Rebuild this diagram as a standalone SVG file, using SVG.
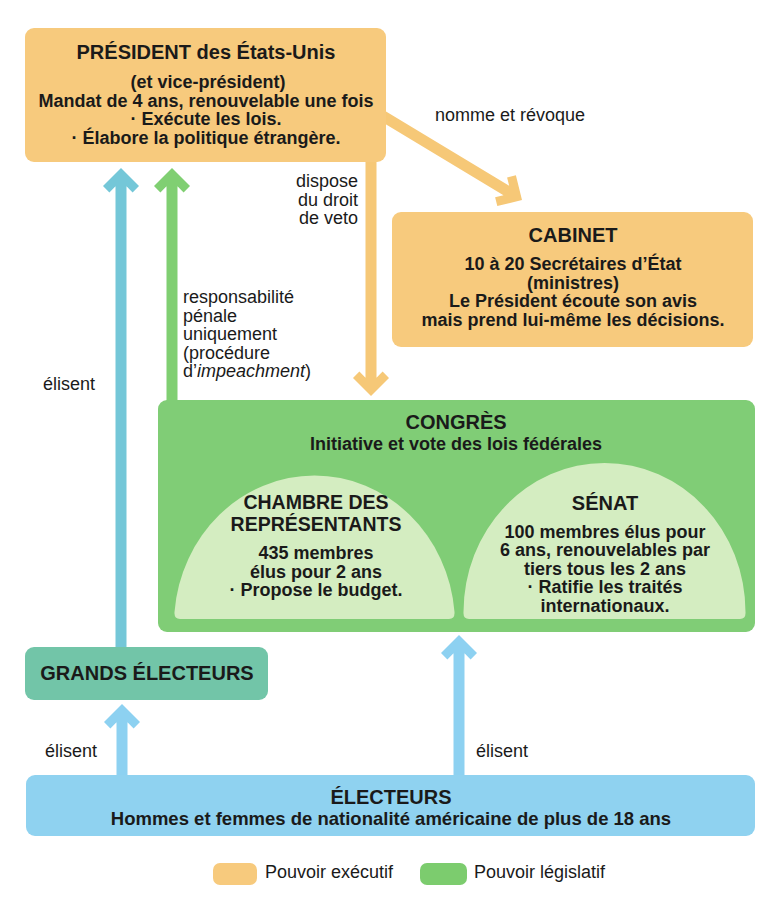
<svg xmlns="http://www.w3.org/2000/svg" width="757" height="897" viewBox="0 0 757 897">
<style>
text{font-family:"Liberation Sans",Arial,Helvetica,sans-serif;fill:#1a1a1a}
.t{font-size:20px;font-weight:bold;text-anchor:middle}
.b{font-size:18px;font-weight:bold;text-anchor:middle}
.r{font-size:18px}
.exec{fill:#f7ca7d}
.leg{fill:#80cd76}
.dome{fill:#d4edc1}
.ablue{fill:#8dd1f1}
.ateal{fill:#74c7d8}
.agreen{fill:#80cf72}
.aorange{fill:#f6c877}
</style>
<rect width="757" height="897" fill="#ffffff"/>
<g id="connectors">
<path class="ateal" d="M121,168 L139,186 L132.6,192.4 L126.5,186.3 L126.5,650 L115.5,650 L115.5,186.3 L109.4,192.4 L103,186 Z"/>
<path class="agreen" d="M172,168 L190,186 L183.6,192.4 L177.5,186.3 L177.5,402 L166.5,402 L166.5,186.3 L160.4,192.4 L154,186 Z"/>
<path class="aorange" d="M371,396 L389,378 L382.6,371.6 L376.5,377.7 L376.5,160 L365.5,160 L365.5,377.7 L359.4,371.6 L353,378 Z"/>
<path class="aorange" transform="translate(522,200) rotate(121.1)" d="M0,0 L18,18 L11.6,24.4 L5.5,18.3 L5.5,165 L-5.5,165 L-5.5,18.3 L-11.6,24.4 L-18,18 Z"/>
<path class="ablue" d="M122,704 L140,722 L133.6,728.4 L127.5,722.3 L127.5,778 L116.5,778 L116.5,722.3 L110.4,728.4 L104,722 Z"/>
<path class="ablue" d="M459,635 L477,653 L470.6,659.4 L464.5,653.3 L464.5,778 L453.5,778 L453.5,653.3 L447.4,659.4 L441,653 Z"/>
<text class="r" x="435" y="121">nomme et révoque</text>
<text class="r" x="358" y="187" text-anchor="end">dispose</text>
<text class="r" x="358" y="205.5" text-anchor="end">du droit</text>
<text class="r" x="358" y="224" text-anchor="end">de veto</text>
<text class="r" x="183" y="303">responsabilité</text>
<text class="r" x="183" y="321.5">pénale</text>
<text class="r" x="183" y="340">uniquement</text>
<text class="r" x="183" y="358.5">(procédure</text>
<text class="r" x="183" y="377">d’<tspan font-style="italic">impeachment</tspan>)</text>
<text class="r" x="43" y="390">élisent</text>
<text class="r" x="45" y="757">élisent</text>
<text class="r" x="476" y="757">élisent</text>
</g>
<g id="president">
<rect class="exec" x="25" y="28" width="361" height="134" rx="9"/>
<text class="t" x="206" y="59">PRÉSIDENT des États-Unis</text>
<text class="b" x="208" y="88">(et vice-président)</text>
<text class="b" x="206" y="106.5">Mandat de 4 ans, renouvelable une fois</text>
<text class="b" x="206" y="125">· Exécute les lois.</text>
<text class="b" x="206" y="143.5">· Élabore la politique étrangère.</text>
</g>
<g id="cabinet">
<rect class="exec" x="392" y="212" width="361" height="135" rx="9"/>
<text class="t" x="573" y="242">CABINET</text>
<text class="b" x="573" y="270">10 à 20 Secrétaires d’État</text>
<text class="b" x="573" y="288.5">(ministres)</text>
<text class="b" x="573" y="307">Le Président écoute son avis</text>
<text class="b" x="573" y="325.5">mais prend lui-même les décisions.</text>
</g>
<g id="congres">
<rect class="leg" x="158" y="400" width="597" height="232" rx="9"/>
<text class="t" x="456" y="429">CONGRÈS</text>
<text class="b" x="456" y="450">Initiative et vote des lois fédérales</text>
<g id="chambre">
<path class="dome" d="M180,619 Q174,619 174.5,612 A140.5,149 0 0 1 454.5,612 Q455,619 449,619 Z"/>
<text class="t" x="316" y="509" style="font-size:19.5px">CHAMBRE DES</text>
<text class="t" x="316" y="531" style="font-size:19.5px">REPRÉSENTANTS</text>
<text class="b" x="316" y="559">435 membres</text>
<text class="b" x="316" y="577.5">élus pour 2 ans</text>
<text class="b" x="316" y="596">· Propose le budget.</text>
</g>
<g id="senat">
<path class="dome" d="M469,619 Q463,619 463.5,612 A141,149 0 0 1 745.5,612 Q746,619 740,619 Z"/>
<text class="t" x="605" y="510">SÉNAT</text>
<text class="b" x="605" y="537.5">100 membres élus pour</text>
<text class="b" x="605" y="556">6 ans, renouvelables par</text>
<text class="b" x="605" y="574.5">tiers tous les 2 ans</text>
<text class="b" x="605" y="593">· Ratifie les traités</text>
<text class="b" x="605" y="611.5">internationaux.</text>
</g>
</g>
<g id="grands-electeurs">
<rect x="25" y="647" width="243" height="53" rx="9" fill="#72c5a8"/>
<text class="t" x="147" y="680">GRANDS ÉLECTEURS</text>
</g>
<g id="electeurs">
<rect x="26" y="775" width="729" height="61" rx="9" fill="#8fd2f0"/>
<text class="t" x="391" y="804">ÉLECTEURS</text>
<text class="b" x="391" y="825" style="font-size:18.5px">Hommes et femmes de nationalité américaine de plus de 18 ans</text>
</g>
<g id="legende">
<rect class="exec" x="213" y="863" width="44" height="22" rx="7"/>
<text class="r" x="265" y="878">Pouvoir exécutif</text>
<rect x="420" y="863" width="47" height="22" rx="7" fill="#7ccc6e"/>
<text class="r" x="474" y="878">Pouvoir législatif</text>
</g>
</svg>
